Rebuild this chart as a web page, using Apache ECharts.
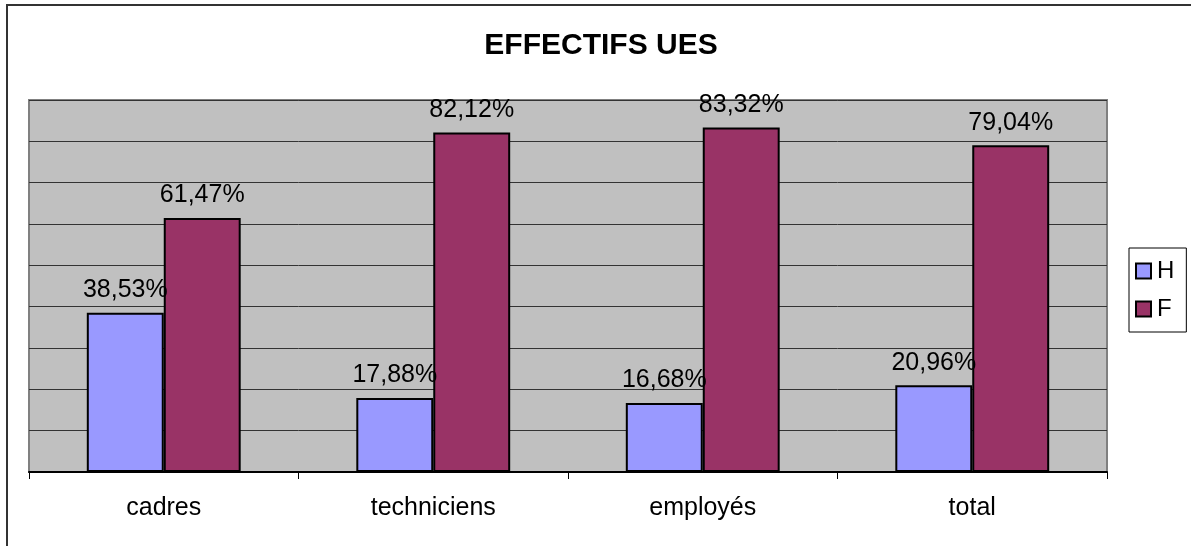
<!DOCTYPE html>
<html><head><meta charset="utf-8">
<script src="https://cdn.jsdelivr.net/npm/echarts@6/dist/echarts.min.js"></script>
<style>html,body{margin:0;padding:0;background:#fff}#c{width:1191px;height:546px}</style>
</head><body><div id="c"></div>
<script>
const categories = ['cadres', 'techniciens', 'employés', 'total'];
const seriesH = [38.53, 17.88, 16.68, 20.96];
const seriesF = [61.47, 82.12, 83.32, 79.04];
const seriesNames = ['H', 'F'];

const chart = echarts.init(document.getElementById('c'));
const fmt = p => p.value.toFixed(2).replace('.', ',') + '%';
const labelCfg = {show: true, position: 'top', distance: 10, formatter: fmt, color: '#000', fontFamily: 'Liberation Sans, Arial', fontSize: 25};
chart.setOption({
  animation: false,
  backgroundColor: '#fff',
  title: {text: 'EFFECTIFS UES', left: 596, top: 26, textAlign: 'center',
    textStyle: {fontFamily: 'Liberation Sans, Arial', fontSize: 30, fontWeight: 'bold', color: '#000'}},
  graphic: [{type: 'rect', shape: {x: 7, y: 5, width: 1250, height: 600}, style: {fill: 'none', stroke: '#333', lineWidth: 2}, z: -1}],
  legend: {orient: 'vertical', left: 1129, top: 248,
    padding: [11, 12, 11, 6], itemGap: 14, itemWidth: 15, itemHeight: 15, icon: 'rect',
    borderColor: '#000', borderWidth: 1, backgroundColor: '#fff',
    itemStyle: {borderColor: '#000', borderWidth: 2},
    textStyle: {fontFamily: 'Liberation Sans, Arial', fontSize: 24, color: '#000', padding: [0, 0, 0, 1]}},
  grid: {left: 29, right: 84, top: 100, bottom: 74, show: true, backgroundColor: '#C0C0C0', borderColor: '#808080', borderWidth: 2},
  xAxis: {type: 'category', data: categories,
    axisLine: {lineStyle: {color: '#000', width: 2}},
    axisTick: {show: true, alignWithLabel: false, length: 7, lineStyle: {color: '#000'}},
    axisLabel: {color: '#000', fontFamily: 'Liberation Sans, Arial', fontSize: 25, margin: 24}},
  yAxis: {type: 'value', min: 0, max: 90, interval: 10,
    axisLabel: {show: false}, axisLine: {show: false}, axisTick: {show: false},
    splitLine: {lineStyle: {color: '#333', width: 1}}},
  series: [
    {name: seriesNames[0], type: 'bar', data: seriesH, barGap: '0%', barCategoryGap: '42.9%',
      itemStyle: {color: '#9999FF', borderColor: '#000', borderWidth: 2}, label: labelCfg},
    {name: seriesNames[1], type: 'bar', data: seriesF,
      itemStyle: {color: '#993366', borderColor: '#000', borderWidth: 2}, label: labelCfg}
  ]
});
</script></body></html>
